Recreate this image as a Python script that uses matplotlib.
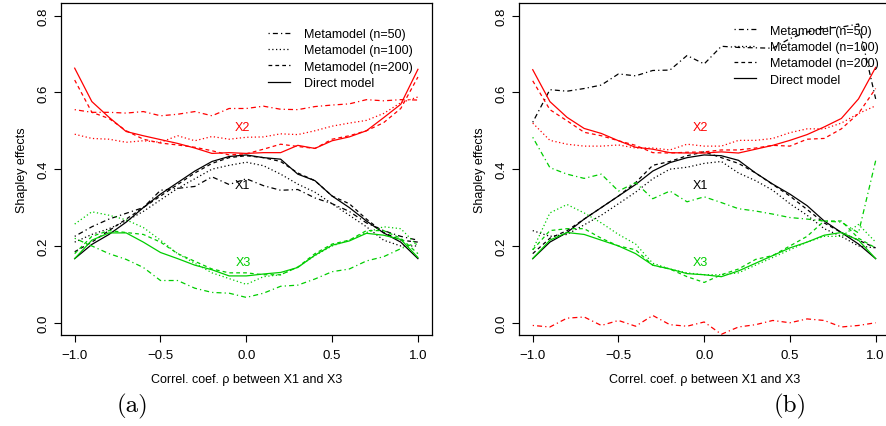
import matplotlib
matplotlib.use('Agg')
import matplotlib.pyplot as plt
from matplotlib.lines import Line2D

plt.rcParams['font.family'] = ['Liberation Sans', 'DejaVu Sans']

rho = [-1.0, -0.9, -0.8, -0.7, -0.6, -0.5, -0.4, -0.3, -0.2, -0.1, 0.0,
       0.1, 0.2, 0.3, 0.4, 0.5, 0.6, 0.7, 0.8, 0.9, 1.0]

# panel (a)
a_x1_n50 = [0.225, 0.25, 0.27, 0.285, 0.30, 0.345, 0.35, 0.355, 0.38, 0.36, 0.375,
            0.357, 0.345, 0.347, 0.325, 0.31, 0.29, 0.26, 0.24, 0.225, 0.215]
a_x1_n100 = [0.21, 0.23, 0.245, 0.265, 0.29, 0.32, 0.35, 0.375, 0.40, 0.41, 0.418,
             0.409, 0.387, 0.361, 0.340, 0.31, 0.28, 0.25, 0.215, 0.2, 0.2]
a_x1_n200 = [0.185, 0.21, 0.24, 0.27, 0.30, 0.33, 0.36, 0.39, 0.415, 0.43, 0.435,
             0.43, 0.42, 0.39, 0.37, 0.33, 0.31, 0.27, 0.235, 0.215, 0.21]
a_x1_direct = [0.167, 0.204, 0.23, 0.262, 0.30, 0.335, 0.365, 0.395, 0.42, 0.433, 0.437,
               0.43, 0.426, 0.387, 0.37, 0.33, 0.30, 0.265, 0.234, 0.21, 0.167]

a_x2_n50 = [0.555, 0.548, 0.548, 0.546, 0.55, 0.539, 0.543, 0.55, 0.539, 0.558, 0.558,
            0.564, 0.556, 0.555, 0.563, 0.567, 0.57, 0.581, 0.578, 0.581, 0.58]
a_x2_n100 = [0.491, 0.48, 0.478, 0.47, 0.474, 0.47, 0.487, 0.474, 0.485, 0.478, 0.483,
             0.484, 0.492, 0.49, 0.5, 0.512, 0.52, 0.527, 0.545, 0.573, 0.588]
a_x2_n200 = [0.632, 0.548, 0.532, 0.5, 0.478, 0.468, 0.463, 0.457, 0.448, 0.437, 0.44,
             0.452, 0.465, 0.459, 0.454, 0.478, 0.487, 0.5, 0.521, 0.558, 0.64]
a_x2_direct = [0.663, 0.576, 0.535, 0.498, 0.487, 0.477, 0.467, 0.455, 0.441, 0.443, 0.441,
               0.443, 0.443, 0.462, 0.454, 0.474, 0.484, 0.5, 0.534, 0.569, 0.66]

a_x3_n50 = [0.22, 0.2, 0.18, 0.165, 0.144, 0.11, 0.11, 0.09, 0.079, 0.077, 0.066,
            0.077, 0.095, 0.098, 0.114, 0.133, 0.14, 0.161, 0.172, 0.193, 0.21]
a_x3_n100 = [0.257, 0.289, 0.28, 0.268, 0.248, 0.215, 0.18, 0.155, 0.13, 0.115, 0.1,
             0.12, 0.125, 0.145, 0.175, 0.2, 0.215, 0.235, 0.25, 0.245, 0.2]
a_x3_n200 = [0.18, 0.225, 0.24, 0.235, 0.23, 0.21, 0.18, 0.16, 0.14, 0.13, 0.13,
             0.125, 0.125, 0.145, 0.18, 0.205, 0.215, 0.24, 0.24, 0.22, 0.18]
a_x3_direct = [0.167, 0.215, 0.234, 0.234, 0.21, 0.183, 0.167, 0.15, 0.138, 0.122, 0.122,
               0.127, 0.131, 0.144, 0.176, 0.202, 0.213, 0.233, 0.228, 0.217, 0.17]

# panel (b)
b_x1_n50 = [0.522, 0.607, 0.603, 0.61, 0.619, 0.648, 0.643, 0.657, 0.658, 0.696, 0.674,
            0.72, 0.717, 0.716, 0.715, 0.74, 0.757, 0.767, 0.77, 0.778, 0.583]
b_x1_n100 = [0.24, 0.225, 0.23, 0.255, 0.28, 0.31, 0.34, 0.375, 0.40, 0.405, 0.415,
             0.42, 0.39, 0.37, 0.345, 0.31, 0.28, 0.245, 0.225, 0.2, 0.195]
b_x1_n200 = [0.18, 0.22, 0.24, 0.27, 0.30, 0.33, 0.365, 0.41, 0.42, 0.435, 0.445,
             0.43, 0.415, 0.39, 0.36, 0.33, 0.295, 0.26, 0.235, 0.215, 0.195]
b_x1_direct = [0.167, 0.21, 0.235, 0.27, 0.30, 0.33, 0.36, 0.395, 0.417, 0.43, 0.437,
               0.435, 0.423, 0.39, 0.361, 0.335, 0.305, 0.265, 0.235, 0.205, 0.167]

b_x2_n50 = [-0.007, -0.011, 0.012, 0.015, -0.007, 0.006, -0.009, 0.019, -0.005, -0.009, 0.002,
            -0.03, -0.011, -0.005, 0.006, 0.0, 0.01, 0.006, -0.011, -0.007, 0.0]
b_x2_n100 = [0.52, 0.475, 0.465, 0.46, 0.46, 0.463, 0.455, 0.455, 0.45, 0.465, 0.46,
             0.46, 0.475, 0.475, 0.48, 0.495, 0.505, 0.505, 0.52, 0.545, 0.565]
b_x2_n200 = [0.63, 0.555, 0.526, 0.496, 0.487, 0.474, 0.462, 0.443, 0.442, 0.444, 0.445,
             0.45, 0.45, 0.455, 0.462, 0.46, 0.478, 0.48, 0.505, 0.545, 0.61]
b_x2_direct = [0.659, 0.576, 0.535, 0.506, 0.493, 0.474, 0.457, 0.452, 0.443, 0.442, 0.442,
               0.445, 0.442, 0.452, 0.462, 0.475, 0.49, 0.51, 0.532, 0.583, 0.665]

b_x3_n50 = [0.483, 0.404, 0.387, 0.376, 0.387, 0.343, 0.365, 0.323, 0.343, 0.315, 0.328,
            0.313, 0.297, 0.291, 0.283, 0.274, 0.27, 0.265, 0.262, 0.234, 0.422]
b_x3_n100 = [0.19, 0.286, 0.308, 0.286, 0.26, 0.23, 0.205, 0.155, 0.14, 0.13, 0.125,
             0.125, 0.13, 0.15, 0.17, 0.19, 0.21, 0.225, 0.225, 0.256, 0.21]
b_x3_n200 = [0.19, 0.24, 0.245, 0.245, 0.22, 0.2, 0.19, 0.15, 0.14, 0.12, 0.105,
             0.125, 0.14, 0.165, 0.175, 0.2, 0.225, 0.265, 0.265, 0.22, 0.195]
b_x3_direct = [0.167, 0.215, 0.235, 0.23, 0.215, 0.2, 0.18, 0.15, 0.14, 0.128, 0.125,
               0.12, 0.135, 0.155, 0.175, 0.195, 0.21, 0.228, 0.235, 0.215, 0.167]

legend_labels = ['Metamodel (n=50)', 'Metamodel (n=100)',
                 'Metamodel (n=200)', 'Direct model']

RED = '#FF0000'
GREEN = '#00CD00'
BLACK = '#000000'

# R line types: dotdash, dotted, dashed, solid
LTY = [(0, (1, 2.5, 4, 2.5)), (0, (1, 2)), (0, (3, 2.5)), '-']
LW = 0.9


def draw_panel(ax, series, leg_loc, leg_anchor):
    for color, curves in series:
        for lty, ys in zip(LTY, curves):
            ax.plot(rho, ys, color=color, linestyle=lty, linewidth=LW)

    ax.text(-0.02, 0.509, 'X2', color=RED, fontsize=9, ha='center', va='center')
    ax.text(-0.02, 0.358, 'X1', color=BLACK, fontsize=9, ha='center', va='center')
    ax.text(-0.02, 0.159, 'X3', color=GREEN, fontsize=9, ha='center', va='center')

    ax.set_xlim(-1.08, 1.08)
    ax.set_ylim(-0.032, 0.832)
    ax.set_xticks([-1.0, -0.5, 0.0, 0.5, 1.0])
    ax.set_yticks([0.0, 0.2, 0.4, 0.6, 0.8])
    ax.tick_params(direction='out', length=5, width=0.8, labelsize=9.5, pad=4)
    ax.tick_params(axis='x', pad=5)
    ax.tick_params(axis='y', labelrotation=90, pad=3)
    for lab in ax.get_yticklabels():
        lab.set_va('center')
    for sp in ax.spines.values():
        sp.set_linewidth(0.9)
    ax.set_xlabel('Correl. coef. \u03c1 between X1 and X3', fontsize=9, labelpad=9)
    ax.set_ylabel('Shapley effects', fontsize=9, labelpad=7)

    handles = [Line2D([], [], color=BLACK, linestyle=lty, linewidth=LW) for lty in LTY]
    leg = ax.legend(handles, legend_labels, loc=leg_loc, bbox_to_anchor=leg_anchor,
                    fontsize=9, frameon=True, fancybox=False, framealpha=0,
                    edgecolor=BLACK, handlelength=1.8, handletextpad=1.1,
                    labelspacing=0.35, borderpad=1.05, borderaxespad=0)
    leg.get_frame().set_linewidth(0.9)


def main():
    fig = plt.figure(figsize=(8.86, 4.27), dpi=100)
    ax_a = fig.add_axes([0.0688, 0.213, 0.4184, 0.777])
    ax_b = fig.add_axes([0.5858, 0.213, 0.418, 0.777])

    draw_panel(ax_a, [(BLACK, [a_x1_n50, a_x1_n100, a_x1_n200, a_x1_direct]),
                      (RED, [a_x2_n50, a_x2_n100, a_x2_n200, a_x2_direct]),
                      (GREEN, [a_x3_n50, a_x3_n100, a_x3_n200, a_x3_direct])],
               'upper right', (0.985, 0.965))
    draw_panel(ax_b, [(BLACK, [b_x1_n50, b_x1_n100, b_x1_n200, b_x1_direct]),
                      (RED, [b_x2_n50, b_x2_n100, b_x2_n200, b_x2_direct]),
                      (GREEN, [b_x3_n50, b_x3_n100, b_x3_n200, b_x3_direct])],
               'upper left', (0.545, 0.975))

    fig.text(0.150, 0.047, '(a)', family='cmr10', fontsize=18, ha='center', va='center')
    fig.text(0.892, 0.047, '(b)', family='cmr10', fontsize=18, ha='center', va='center')
    fig.savefig('out.png', dpi=100)


if __name__ == '__main__':
    main()
